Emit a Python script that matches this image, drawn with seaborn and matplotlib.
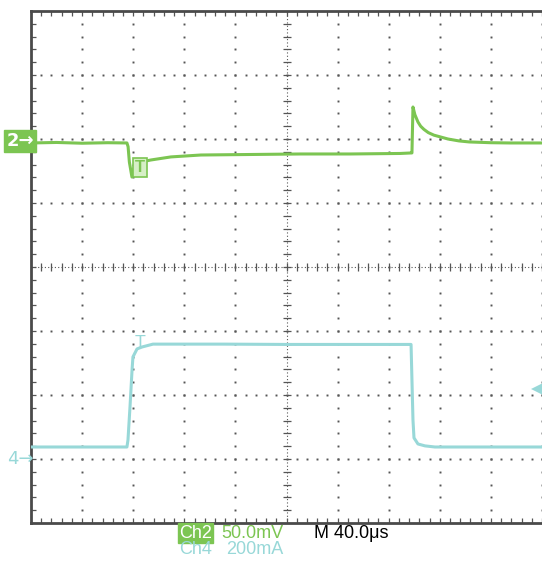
import numpy as np
import pandas as pd
import seaborn as sns
import matplotlib.pyplot as plt

# scope settings
time_per_div = 40.0      # us
ch2_per_div = 50.0       # mV
ch4_per_div = 200.0      # mA
ch2_ground_div = 2.0     # ground marker position (divisions from centre)
ch4_ground_div = -3.0

# Ch2 (voltage ripple): time in us, value in mV
ch2_time = [0, 20, 40, 60, 75.1, 76.0, 77.0, 79.0, 80.5, 82.0, 86.0, 93.8,
            109.5, 133, 172, 211, 250, 289, 297.5, 298.2, 299.0, 300.5,
            302.9, 305.0, 307.6, 311.0, 315.4, 322.0, 326.4, 335.0, 343,
            360, 375, 400]
ch2_mv = [-3.1, -2.7, -3.3, -2.9, -3.1, -6.0, -18.0, -29.7, -22.7, -20.5,
          -18.0, -16.4, -14.0, -12.5, -12.1, -11.7, -11.7, -11.3, -10.9,
          -10.9, 25.0, 19.0, 13.3, 10.0, 7.5, 5.0, 3.0, 1.2, 0.0, -1.5,
          -2.3, -2.9, -3.1, -3.1]

# Ch4 (load current), time in us, value in mA
ch4_time = [0, 40, 75.1, 75.9, 77.5, 79.1, 79.8, 83.0, 86.9, 95.5, 150, 200,
            250, 297.5, 298.2, 299.0, 299.8, 302.9, 308.4, 316.2, 360, 400]
ch4_ma = [37.5, 37.5, 37.5, 59, 163, 278, 319, 344, 350, 359, 359, 358,
          358, 358, 247, 122, 66, 47, 41, 37.5, 37.5, 37.5]

trigger_level_div = -1.9

GREEN = "#7cc552"
CYAN = "#98d8d8"
GRID = "#555555"

sns.set_theme(style="white")
plt.rcParams["font.family"] = ["Liberation Sans", "DejaVu Sans"]

fig = plt.figure(figsize=(5.42, 5.63), dpi=100)
ax = fig.add_axes([31 / 542, 40 / 563, 511 / 542, 512 / 563])
ax.set_xlim(0, 10)
ax.set_ylim(-4, 4)
ax.set_xticks([])
ax.set_yticks([])
for side in ["left", "top", "bottom"]:
    ax.spines[side].set_color("#4a4a4a")
    ax.spines[side].set_linewidth(2)
ax.spines["right"].set_visible(False)

# graticule dots
minor_x = np.arange(0.2, 10.01, 0.2)
minor_y = np.arange(-3.8, 3.81, 0.2)
for gx in range(1, 11):
    if gx == 5:
        continue
    ax.plot(np.full_like(minor_y, gx), minor_y, ls="none", marker="s",
            ms=1.4, mew=0, color=GRID, zorder=1)
for gy in range(-3, 4):
    if gy == 0:
        continue
    ax.plot(minor_x, np.full_like(minor_x, gy), ls="none", marker="s",
            ms=1.4, mew=0, color=GRID, zorder=1)

# centre cross with ticks
ax.plot([0, 10], [0, 0], color=GRID, lw=0.8, ls=(0, (1, 2)), zorder=1)
ax.plot([5, 5], [-4, 4], color=GRID, lw=0.8, ls=(0, (1, 2)), zorder=1)
ax.plot(minor_x, np.zeros_like(minor_x), ls="none", marker="|", ms=6,
        mew=0.9, color=GRID, zorder=1)
ax.plot(np.full_like(minor_y, 5), minor_y, ls="none", marker="_", ms=6,
        mew=0.9, color=GRID, zorder=1)

# border ticks
ax.plot(minor_x, np.full_like(minor_x, 4), ls="none", marker="|", ms=7,
        mew=0.9, color=GRID, zorder=1)
ax.plot(minor_x, np.full_like(minor_x, -4), ls="none", marker="|", ms=7,
        mew=0.9, color=GRID, zorder=1)
ax.plot(np.zeros_like(minor_y), minor_y, ls="none", marker="_", ms=7,
        mew=0.9, color=GRID, zorder=1)

# traces
df2 = pd.DataFrame({"t": np.array(ch2_time) / time_per_div,
                    "v": np.array(ch2_mv) / ch2_per_div + ch2_ground_div})
df4 = pd.DataFrame({"t": np.array(ch4_time) / time_per_div,
                    "v": np.array(ch4_ma) / ch4_per_div + ch4_ground_div})
sns.lineplot(data=df2, x="t", y="v", ax=ax, color=GREEN, lw=2.2,
             estimator=None, sort=False, zorder=3)
sns.lineplot(data=df4, x="t", y="v", ax=ax, color=CYAN, lw=2.2,
             estimator=None, sort=False, zorder=3)
ax.set_xlabel("")
ax.set_ylabel("")

# trigger position "T" markers
ax.text(2.14, 1.55, "T", color=GREEN, fontsize=12, fontweight="bold",
        ha="center", va="center", zorder=4,
        bbox=dict(boxstyle="square,pad=0.12", fc="#d6efc6", ec=GREEN, lw=1.2))
ax.text(2.14, -1.2, "T", color=CYAN, fontsize=13, ha="center",
        va="center", zorder=4)

# trigger level arrow on the right
ax.plot([9.9], [trigger_level_div], marker="<", ms=9, mew=0, color=CYAN,
        clip_on=False, zorder=4)

# channel ground markers
fig.text(20 / 542, 1 - 141 / 563, "2\u2192", color="white", fontsize=13,
         fontweight="bold", ha="center", va="center",
         family=["DejaVu Sans"],
         bbox=dict(boxstyle="square,pad=0.1", fc=GREEN, ec=GREEN))
fig.text(20 / 542, 1 - 459 / 563, "4\u2192", color=CYAN, fontsize=13,
         ha="center", va="center", family=["DejaVu Sans"])

# readout
fig.text(179 / 542, 1 - 533 / 563, "Ch2", color="white", fontsize=13,
         ha="left", va="center",
         bbox=dict(boxstyle="square,pad=0.06", fc=GREEN, ec=GREEN))
fig.text(283 / 542, 1 - 533 / 563, "50.0mV", color=GREEN, fontsize=13,
         ha="right", va="center")
fig.text(314 / 542, 1 - 533 / 563, "M 40.0\u03bcs", color="black",
         fontsize=13, ha="left", va="center")
fig.text(179 / 542, 1 - 550 / 563, "Ch4", color=CYAN, fontsize=13,
         ha="left", va="center")
fig.text(283 / 542, 1 - 550 / 563, "200mA", color=CYAN, fontsize=13,
         ha="right", va="center")

fig.savefig("out.png", dpi=100, facecolor="white")
